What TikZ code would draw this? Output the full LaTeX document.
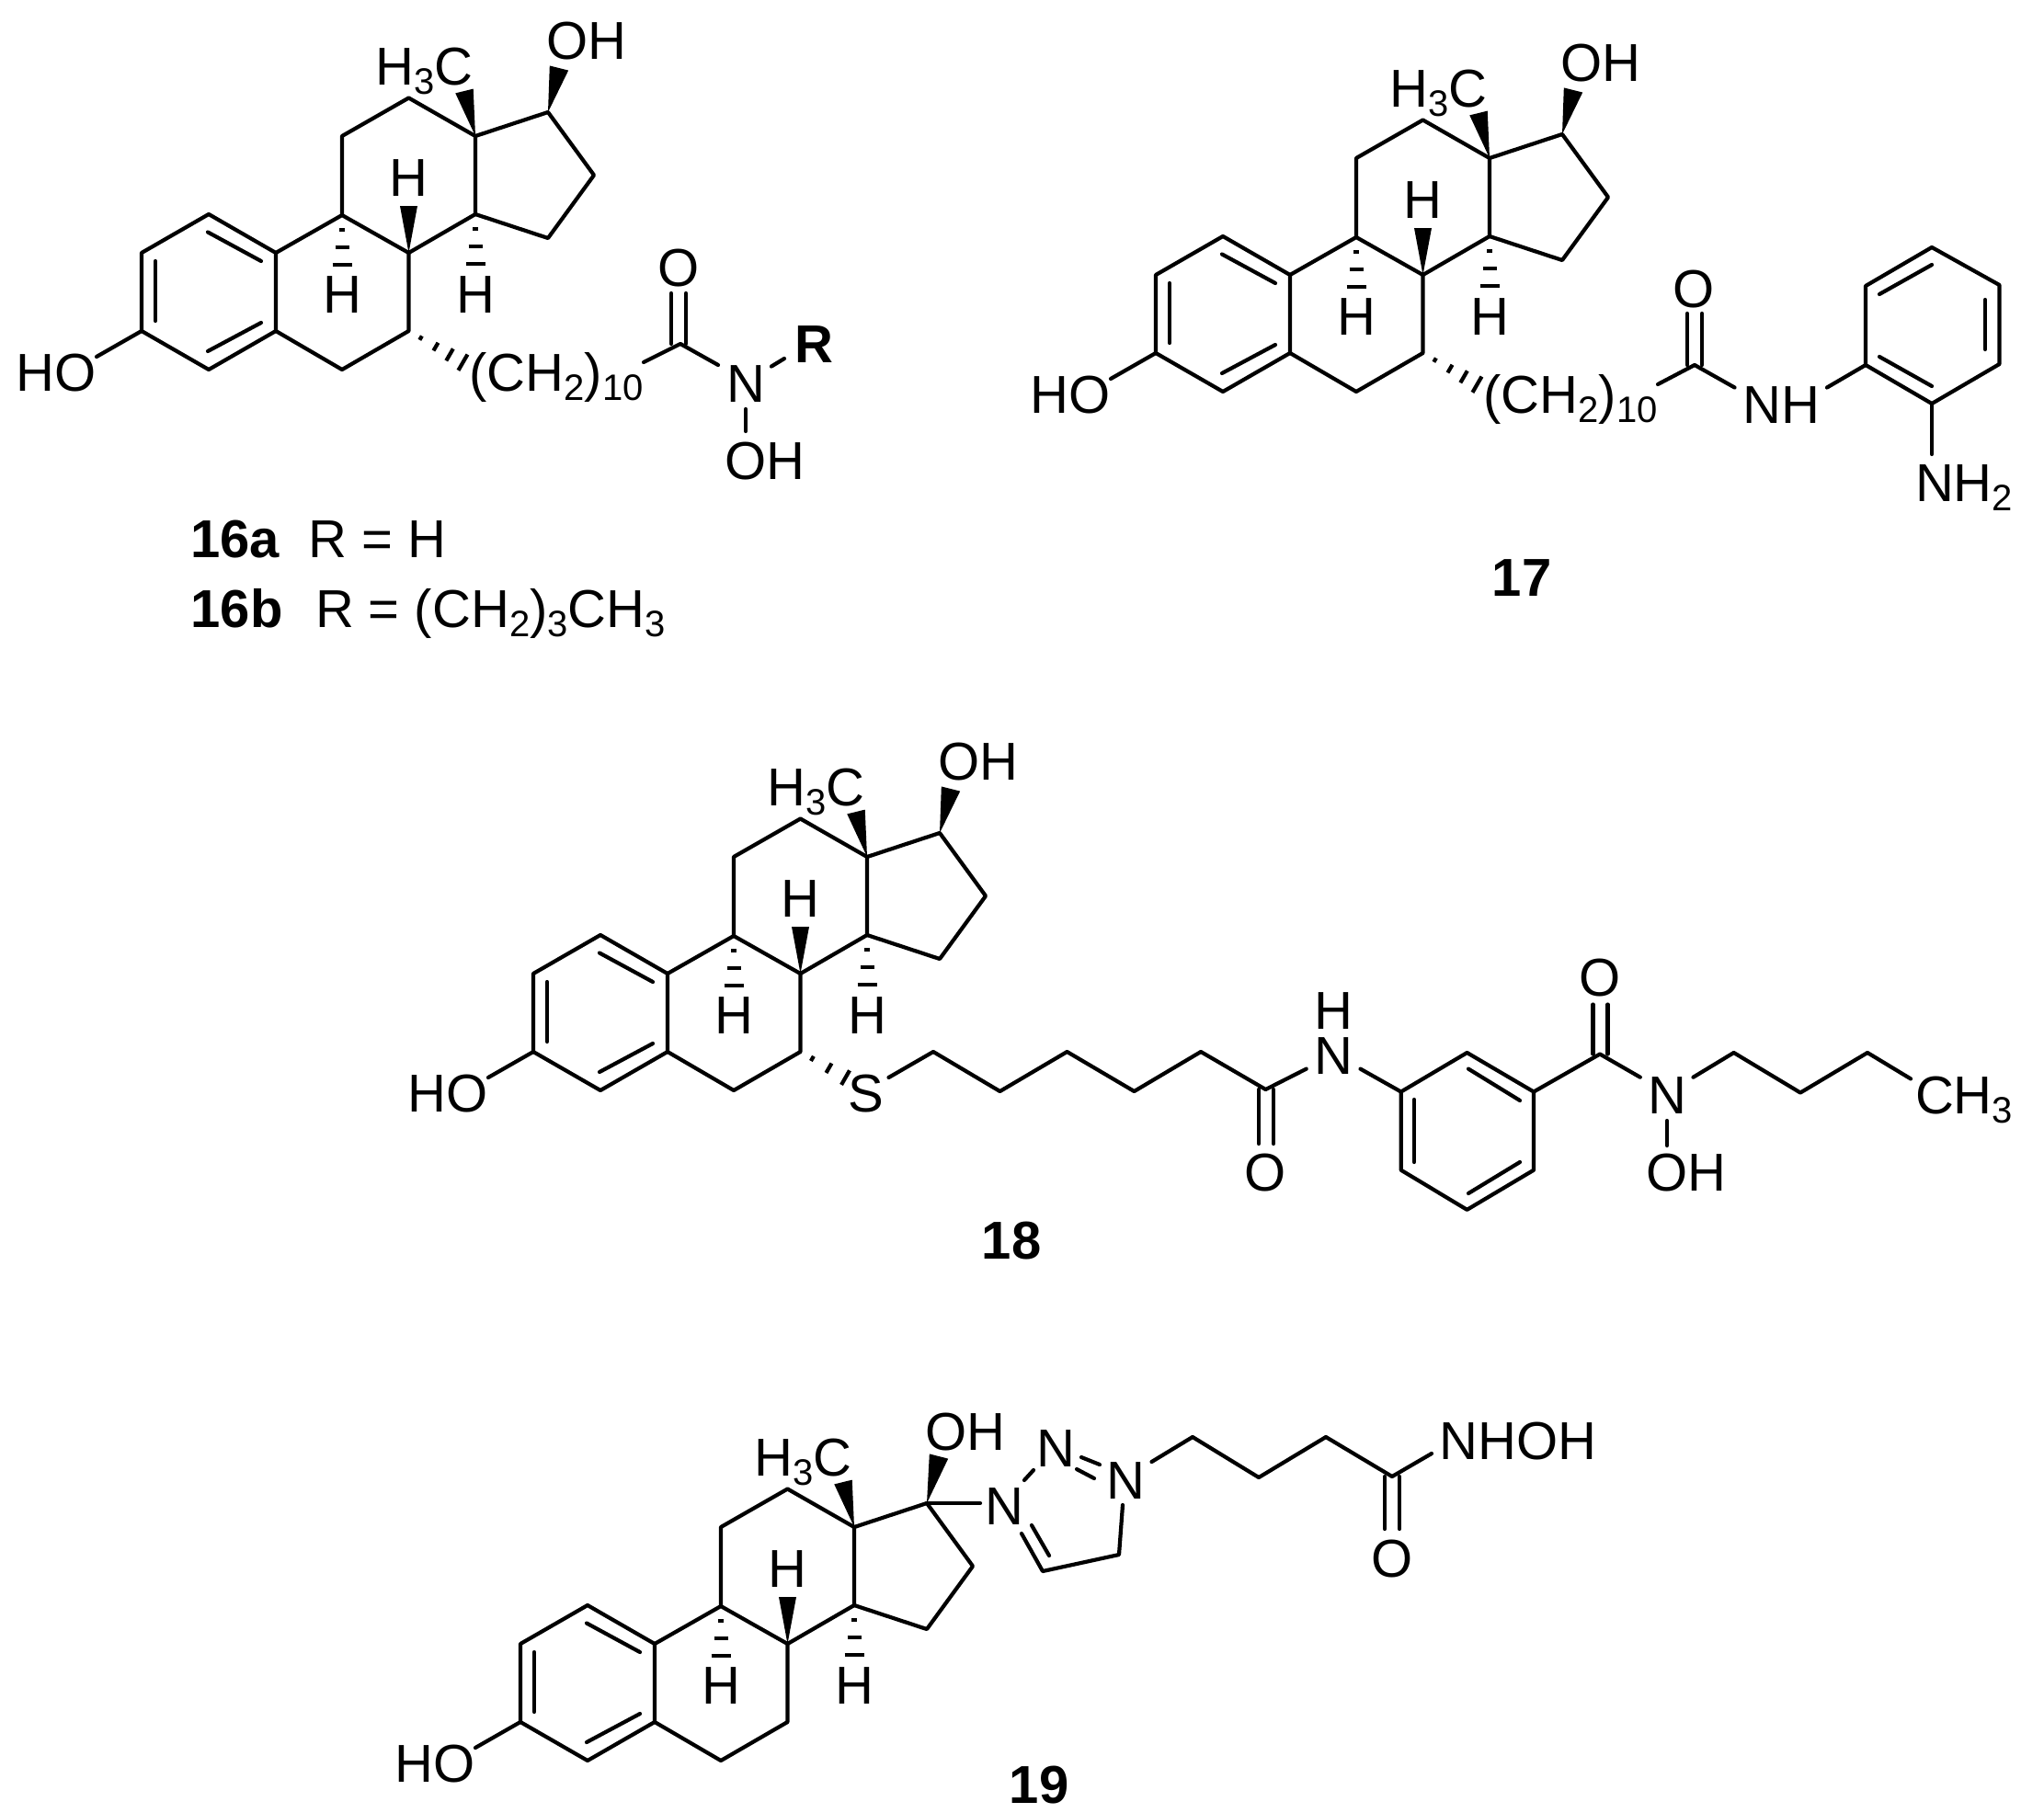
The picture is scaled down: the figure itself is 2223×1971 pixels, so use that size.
\documentclass[tikz,border=0pt]{standalone}
\usepackage{fontspec}
\setmainfont{Liberation Sans}
\usetikzlibrary{calc}
\newcommand{\chsub}[1]{\raisebox{-10pt}{\fontsize{40}{40}\selectfont #1}}
\tikzset{
  atomlab/.style={inner sep=0pt,outer sep=0pt,anchor=base,font=\fontsize{58}{58}\selectfont},
  cmpd/.style={inner sep=0pt,outer sep=0pt,anchor=base,font=\fontsize{58}{58}\selectfont\bfseries},
  bond/.style={line width=4.2pt,line cap=round,line join=round},
  hashbar/.style={line width=4.2pt,line cap=butt}
}
% solid wedge: narrow end at #1, wide end at #2, half width #3
\newcommand{\wedgebond}[3]{\fill (#1) -- ($(#2)!#3pt!90:(#1)$) -- ($(#2)!#3pt!-90:(#1)$) -- cycle;}
% alpha hash downwards from atom #1
\newcommand{\hashdown}[1]{%
  \draw[hashbar] ($(#1)+(-3,16)$) -- ($(#1)+(3,16)$);
  \draw[hashbar] ($(#1)+(-7.5,35)$) -- ($(#1)+(7.5,35)$);
  \draw[hashbar] ($(#1)+(-10.5,54)$) -- ($(#1)+(10.5,54)$);}
% one bar of a hashed bond from #1 to #2 at fraction #3, half length #4
\newcommand{\hashbar}[4]{%
  \path ($(#1)!#3!(#2)$) coordinate (hb);
  \draw[hashbar] ($(hb)!#4pt!90:(#2)$) -- ($(hb)!#4pt!-90:(#2)$);}
\newcommand{\steroid}[4]{% prefix, x, y, wedge top of OH (relative)
\begin{scope}[shift={(#2,#3)},name prefix=#1-]
  \coordinate (c3) at (0,0);       \coordinate (c4) at (73,42);
  \coordinate (c5) at (146,0);     \coordinate (c10) at (146,-85);
  \coordinate (c1) at (73,-127);   \coordinate (c2) at (0,-85);
  \coordinate (c9) at (218,-126);  \coordinate (c8) at (290.5,-85);
  \coordinate (c7) at (290.5,0);   \coordinate (c6) at (218,42);
  \coordinate (c11) at (218,-212); \coordinate (c12) at (290.5,-253.5);
  \coordinate (c13) at (363,-212); \coordinate (c14) at (363,-127);
  \coordinate (c15) at (442,-101); \coordinate (c16) at (492,-169.5);
  \coordinate (c17) at (442,-238);
  \coordinate (ho) at (-49,28);
  \coordinate (w17) at (#4);       \coordinate (w13) at (-12,-49);
  \coordinate (w8) at (0,-51);
  \coordinate (i1a) at (72,-107.5); \coordinate (i1b) at (130,-76);
  \coordinate (i2a) at (15,-76);    \coordinate (i2b) at (15,-11);
  \coordinate (i3a) at (72,22);     \coordinate (i3b) at (130,-9);
  \coordinate (w13t) at ($(c13)+(w13)$);
  \coordinate (w8t) at ($(c8)+(w8)$);
  \draw[bond] (c3)--(c4)--(c5)--(c10)--(c1)--(c2)--cycle;
  \draw[bond] (c10)--(c9)--(c8)--(c7)--(c6)--(c5);
  \draw[bond] (c9)--(c11)--(c12)--(c13)--(c14)--(c8);
  \draw[bond] (c13)--(c17)--(c16)--(c15)--(c14);
  \draw[bond] (c3)--(ho);
  \draw[bond] (i1a)--(i1b);
  \draw[bond] (i2a)--(i2b);
  \draw[bond] (i3a)--(i3b);
  \wedgebond{c17}{w17}{10.5}
  \wedgebond{c13}{w13t}{10}
  \wedgebond{c8}{w8t}{9.5}
  \hashdown{c9}
  \hashdown{c14}
  \node[atomlab] (ho-l) at (-93,65) {HO};
  \node[atomlab] (me-l) at (307.5,-268) {H\chsub{3}C};
  \node[atomlab] (oh-l) at (484,-296) {OH};
  \node[atomlab] (hb-l) at (290.5,-146.5) {H};
  \node[atomlab] (ha9-l) at (218,-20) {H};
  \node[atomlab] (ha14-l) at (363,-20) {H};
\end{scope}}
\begin{document}
\begin{tikzpicture}[x=1pt,y=-1pt]
\useasboundingbox (0,0) rectangle (2223,1971);
\fill[white] (0,0) rectangle (2223,1971);

%% ---------- 16 ----------
\steroid{a}{154}{360}{454,-286}
\coordinate (a-h1) at (510,398);
\foreach \f/\l in {.2/2.5,.45/5,.68/7.5,.9/10}{\hashbar{a-c7}{a-h1}{\f}{\l}}
\node[atomlab] (a-chain) at (605,425) {(CH\chsub{2})\chsub{10}};
\coordinate (a-co) at (740,374);
\coordinate (a-b1) at (700,394);
\coordinate (a-b2) at (781,397);
\coordinate (a-o1) at (730,319); \coordinate (a-o2) at (746,319);
\coordinate (a-co1) at (730,374); \coordinate (a-co2) at (746,374);
\draw[bond] (a-b1)--(a-co)--(a-b2);
\draw[bond] (a-co1)--(a-o1);
\draw[bond] (a-co2)--(a-o2);
\node[atomlab] (a-o) at (738,311.5) {O};
\node[atomlab] (a-n) at (811,437) {N};
\node[atomlab] (a-oh) at (831.5,521) {OH};
\node[atomlab,font=\fontsize{58}{58}\selectfont\bfseries] (a-r) at (885,394) {R};
\coordinate (a-nr1) at (839,398.5); \coordinate (a-nr2) at (853,390);
\coordinate (a-no1) at (811,445); \coordinate (a-no2) at (811,469);
\draw[bond] (a-nr1)--(a-nr2);
\draw[bond] (a-no1)--(a-no2);
\node[cmpd] (l16a) at (255.5,606) {16a};
\node[atomlab] (l16ar) at (410.5,606) {R = H};
\node[cmpd] (l16b) at (257.5,682) {16b};
\node[atomlab] (l16br) at (533.5,682) {R = (CH\chsub{2})\chsub{3}CH\chsub{3}};

%% ---------- 17 ----------
\steroid{b}{1257}{384}{454,-286}
\coordinate (b-h1) at (1613,422);
\foreach \f/\l in {.2/2.5,.45/5,.68/7.5,.9/10}{\hashbar{b-c7}{b-h1}{\f}{\l}}
\node[atomlab] (b-chain) at (1708,449) {(CH\chsub{2})\chsub{10}};
\coordinate (b-co) at (1843,397);
\coordinate (b-b1) at (1803,418);
\coordinate (b-b2) at (1886.5,421.5);
\coordinate (b-o1) at (1835,341); \coordinate (b-o2) at (1851,341);
\coordinate (b-co1) at (1835,397); \coordinate (b-co2) at (1851,397);
\draw[bond] (b-b1)--(b-co)--(b-b2);
\draw[bond] (b-co1)--(b-o1);
\draw[bond] (b-co2)--(b-o2);
\node[atomlab] (b-o) at (1842,334) {O};
\node[atomlab] (b-nh) at (1937,460) {NH};
\coordinate (b-ra) at (2029,397);  \coordinate (b-rb) at (2101,439);
\coordinate (b-rc) at (2174.5,396);\coordinate (b-rd) at (2174.5,310);
\coordinate (b-re) at (2101,269);  \coordinate (b-rf) at (2029,311);
\coordinate (b-nb) at (1987,421.5);
\coordinate (b-nh2b) at (2101,494);
\draw[bond] (b-ra)--(b-rb)--(b-rc)--(b-rd)--(b-re)--(b-rf)--cycle;
\draw[bond] (b-nb)--(b-ra);
\draw[bond] (b-rb)--(b-nh2b);
\coordinate (b-i1a) at (2044,388); \coordinate (b-i1b) at (2101,420);
\coordinate (b-i2a) at (2159,380); \coordinate (b-i2b) at (2159,326);
\coordinate (b-i3a) at (2101,288); \coordinate (b-i3b) at (2044,320);
\draw[bond] (b-i1a)--(b-i1b);
\draw[bond] (b-i2a)--(b-i2b);
\draw[bond] (b-i3a)--(b-i3b);
\node[atomlab] (b-nh2) at (2136,545) {NH\chsub{2}};
\node[cmpd] (l17) at (1655,648) {17};

%% ---------- 18 ----------
\steroid{c}{580}{1144}{454,-286}
\coordinate (c-h1) at (935,1181);
\foreach \f/\l in {.2/3,.48/6,.76/9}{\hashbar{c-c7}{c-h1}{\f}{\l}}
\node[atomlab] (c-s) at (942,1209) {S};
\coordinate (c-s1) at (966.5,1172);
\coordinate (c-p1) at (1015,1144);   \coordinate (c-p2) at (1087.5,1187);
\coordinate (c-p3) at (1160.5,1144); \coordinate (c-p4) at (1233.5,1187);
\coordinate (c-p5) at (1306,1144);   \coordinate (c-co) at (1376.5,1185);
\coordinate (c-nl) at (1420.7,1162.6);
\draw[bond] (c-s1)--(c-p1)--(c-p2)--(c-p3)--(c-p4)--(c-p5)--(c-co)--(c-nl);
\coordinate (c-co1) at (1369,1185); \coordinate (c-co2) at (1385,1185);
\coordinate (c-o1) at (1369,1244);  \coordinate (c-o2) at (1385,1244);
\draw[bond] (c-co1)--(c-o1);
\draw[bond] (c-co2)--(c-o2);
\node[atomlab] (c-o) at (1376.5,1295) {O};
\node[atomlab] (c-n) at (1450,1168) {N};
\node[atomlab] (c-h) at (1450,1119) {H};
\coordinate (c-nr) at (1479.5,1162.6);
\coordinate (c-ra) at (1523.7,1187.5); \coordinate (c-rb) at (1595.5,1145);
\coordinate (c-rc) at (1668,1187.5);   \coordinate (c-rd) at (1668,1272.7);
\coordinate (c-re) at (1595.5,1315.8); \coordinate (c-rf) at (1523.7,1272.7);
\draw[bond] (c-ra)--(c-rb)--(c-rc)--(c-rd)--(c-re)--(c-rf)--cycle;
\draw[bond] (c-nr)--(c-ra);
\coordinate (c-i1a) at (1597,1162.6); \coordinate (c-i1b) at (1653,1197);
\coordinate (c-i2a) at (1538,1196);   \coordinate (c-i2b) at (1538,1264);
\coordinate (c-i3a) at (1597,1298);   \coordinate (c-i3b) at (1653,1264);
\draw[bond] (c-i1a)--(c-i1b);
\draw[bond] (c-i2a)--(c-i2b);
\draw[bond] (c-i3a)--(c-i3b);
\coordinate (c-cc) at (1740,1146.5);
\coordinate (c-n2l) at (1783.8,1171.7);
\draw[bond] (c-rc)--(c-cc)--(c-n2l);
\coordinate (c-cc1) at (1732.5,1146.5); \coordinate (c-cc2) at (1748.5,1146.5);
\coordinate (c-oo1) at (1732.5,1092.5); \coordinate (c-oo2) at (1748.5,1092.5);
\draw[bond] (c-cc1)--(c-oo1);
\draw[bond] (c-cc2)--(c-oo2);
\node[atomlab] (c-o2l) at (1740,1083) {O};
\node[atomlab] (c-n2) at (1813,1211) {N};
\coordinate (c-no1) at (1813,1219); \coordinate (c-no2) at (1813,1246);
\draw[bond] (c-no1)--(c-no2);
\node[atomlab] (c-oh) at (1833.5,1295) {OH};
\coordinate (c-b0) at (1841.5,1171.7); \coordinate (c-b1) at (1885.6,1145);
\coordinate (c-b2) at (1958,1188.5);   \coordinate (c-b3) at (2031,1145);
\coordinate (c-b4) at (2078,1173.4);
\draw[bond] (c-b0)--(c-b1)--(c-b2)--(c-b3)--(c-b4);
\node[atomlab] (c-ch3) at (2136,1211) {CH\chsub{3}};
\node[cmpd] (l18) at (1100,1369) {18};

%% ---------- 19 ----------
\steroid{d}{566}{1873}{455,-289}
\node[atomlab] (d-n1) at (1092,1658) {N};
\node[atomlab] (d-n2) at (1148,1595) {N};
\node[atomlab] (d-n3) at (1224.5,1630) {N};
\coordinate (d-cn) at (1066,1635);
\draw[bond] (d-c17)--(d-cn);
\coordinate (d-s1) at (1114,1610); \coordinate (d-s2) at (1124,1599);
\draw[bond] (d-s1)--(d-s2);
\coordinate (d-d1a) at (1176,1585); \coordinate (d-d1b) at (1196,1593);
\coordinate (d-d2a) at (1171,1598); \coordinate (d-d2b) at (1190,1608);
\draw[bond] (d-d1a)--(d-d1b);
\draw[bond] (d-d2a)--(d-d2b);
\coordinate (d-r1) at (1111,1668); \coordinate (d-r2) at (1134,1709);
\coordinate (d-r3) at (1217,1691); \coordinate (d-r4) at (1221,1637);
\draw[bond] (d-r1)--(d-r2)--(d-r3)--(d-r4);
\coordinate (d-i1) at (1122,1659); \coordinate (d-i2) at (1141,1692);
\draw[bond] (d-i1)--(d-i2);
\coordinate (d-c0) at (1252.5,1590); \coordinate (d-c1) at (1297,1563);
\coordinate (d-c2) at (1369,1607);   \coordinate (d-c3) at (1442,1563);
\coordinate (d-c4) at (1514,1606);   \coordinate (d-c5) at (1557,1581);
\draw[bond] (d-c0)--(d-c1)--(d-c2)--(d-c3)--(d-c4)--(d-c5);
\coordinate (d-e1) at (1506,1606); \coordinate (d-e2) at (1522,1606);
\coordinate (d-f1) at (1506,1663); \coordinate (d-f2) at (1522,1663);
\draw[bond] (d-e1)--(d-f1);
\draw[bond] (d-e2)--(d-f2);
\node[atomlab] (d-o) at (1514,1715) {O};
\node[atomlab] (d-nhoh) at (1651,1587) {NHOH};
\node[cmpd] (l19) at (1130,1961) {19};
\end{tikzpicture}
\end{document}
